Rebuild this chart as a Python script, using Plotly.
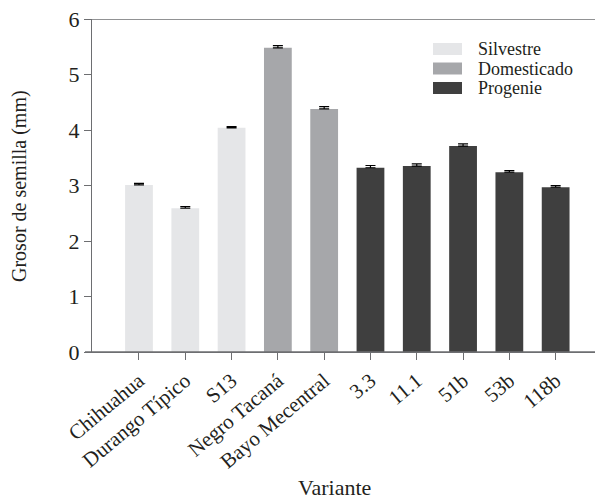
import plotly.graph_objects as go

# Seed thickness by variant (mm), mean and standard error
variantes = ["Chihuahua", "Durango Típico", "S13", "Negro Tacaná", "Bayo Mecentral",
             "3.3", "11.1", "51b", "53b", "118b"]
grupos = ["Silvestre", "Silvestre", "Silvestre", "Domesticado", "Domesticado",
          "Progenie", "Progenie", "Progenie", "Progenie", "Progenie"]
grosor = [3.01, 2.59, 4.04, 5.48, 4.38, 3.32, 3.35, 3.71, 3.24, 2.97]
error = [0.03, 0.03, 0.02, 0.04, 0.04, 0.04, 0.04, 0.04, 0.03, 0.03]

orden_grupos = ["Silvestre", "Domesticado", "Progenie"]
colores = {"Silvestre": "#e5e6e8", "Domesticado": "#a6a7aa", "Progenie": "#3f3f3f"}

FONT = "Liberation Serif, serif"
TEXT = "#231f20"
AXIS = "#6d6e71"

fig = go.Figure()
for g in orden_grupos:
    idx = [i for i, gg in enumerate(grupos) if gg == g]
    fig.add_trace(go.Bar(
        x=[variantes[i] for i in idx],
        y=[grosor[i] for i in idx],
        name=g,
        marker=dict(color=colores[g], line=dict(width=0)),
        error_y=dict(type="data", array=[error[i] for i in idx],
                     arrayminus=[0] * len(idx), symmetric=False,
                     color="#000000", thickness=1.2, width=5),
        showlegend=False,
    ))

# Plot area in pixels, used to place the legend and titles
L = 92.0
W = 503.0
B = 352.0
H = 333.0

# Legend drawn as swatches with labels
for k, g in enumerate(orden_grupos):
    cy = 49 + k * 19.5
    fig.add_shape(type="rect", xref="paper", yref="paper",
                  x0=(433 - L) / W, x1=(462 - L) / W,
                  y0=(B - (cy + 6)) / H, y1=(B - (cy - 6)) / H,
                  fillcolor=colores[g], line=dict(width=0))
    fig.add_annotation(xref="paper", yref="paper",
                       x=(476 - L) / W, y=(B - cy) / H,
                       text=g, showarrow=False, xanchor="left", yanchor="middle",
                       font=dict(family=FONT, size=18, color=TEXT))

# Axis titles
fig.add_annotation(xref="paper", yref="paper",
                   x=(334 - L) / W, y=(B - 487) / H,
                   text="Variante", showarrow=False,
                   xanchor="center", yanchor="middle",
                   font=dict(family=FONT, size=22, color=TEXT))
fig.add_annotation(xref="paper", yref="paper",
                   x=(19 - L) / W, y=(B - 186) / H,
                   text="Grosor de semilla (mm)", showarrow=False, textangle=-90,
                   xanchor="center", yanchor="middle",
                   font=dict(family=FONT, size=20, color=TEXT))

# Top frame line at y = 6, extending over the tick length
fig.add_shape(type="line", xref="paper", yref="y",
              x0=-7 / W, x1=1, y0=6, y1=6,
              line=dict(color=AXIS, width=1.3))
# Bottom line extended left over the zero tick
fig.add_shape(type="line", xref="paper", yref="y",
              x0=-7 / W, x1=1, y0=0, y1=0,
              line=dict(color=AXIS, width=1.3))

fig.update_layout(
    width=595, height=499,
    margin=dict(l=92, r=0, t=19, b=147),
    paper_bgcolor="white", plot_bgcolor="white",
    barmode="overlay",
    bargap=0.4,
    font=dict(family=FONT, color=TEXT),
    xaxis=dict(
        type="category", categoryorder="array", categoryarray=variantes,
        range=[-1.015, 9.85],
        showline=True, linecolor=AXIS, linewidth=1.3,
        ticks="outside", ticklen=7, tickcolor=AXIS, tickwidth=1.3,
        tickangle=-40, tickfont=dict(family=FONT, size=21, color=TEXT),
        showgrid=False, zeroline=False,
    ),
    yaxis=dict(
        range=[0, 6], dtick=1,
        showline=True, linecolor=AXIS, linewidth=1.3,
        ticks="outside", ticklen=7, tickcolor=AXIS, tickwidth=1.3,
        tickfont=dict(family=FONT, size=22, color=TEXT),
        showgrid=False, zeroline=False,
    ),
)

fig.write_html("out.html")
